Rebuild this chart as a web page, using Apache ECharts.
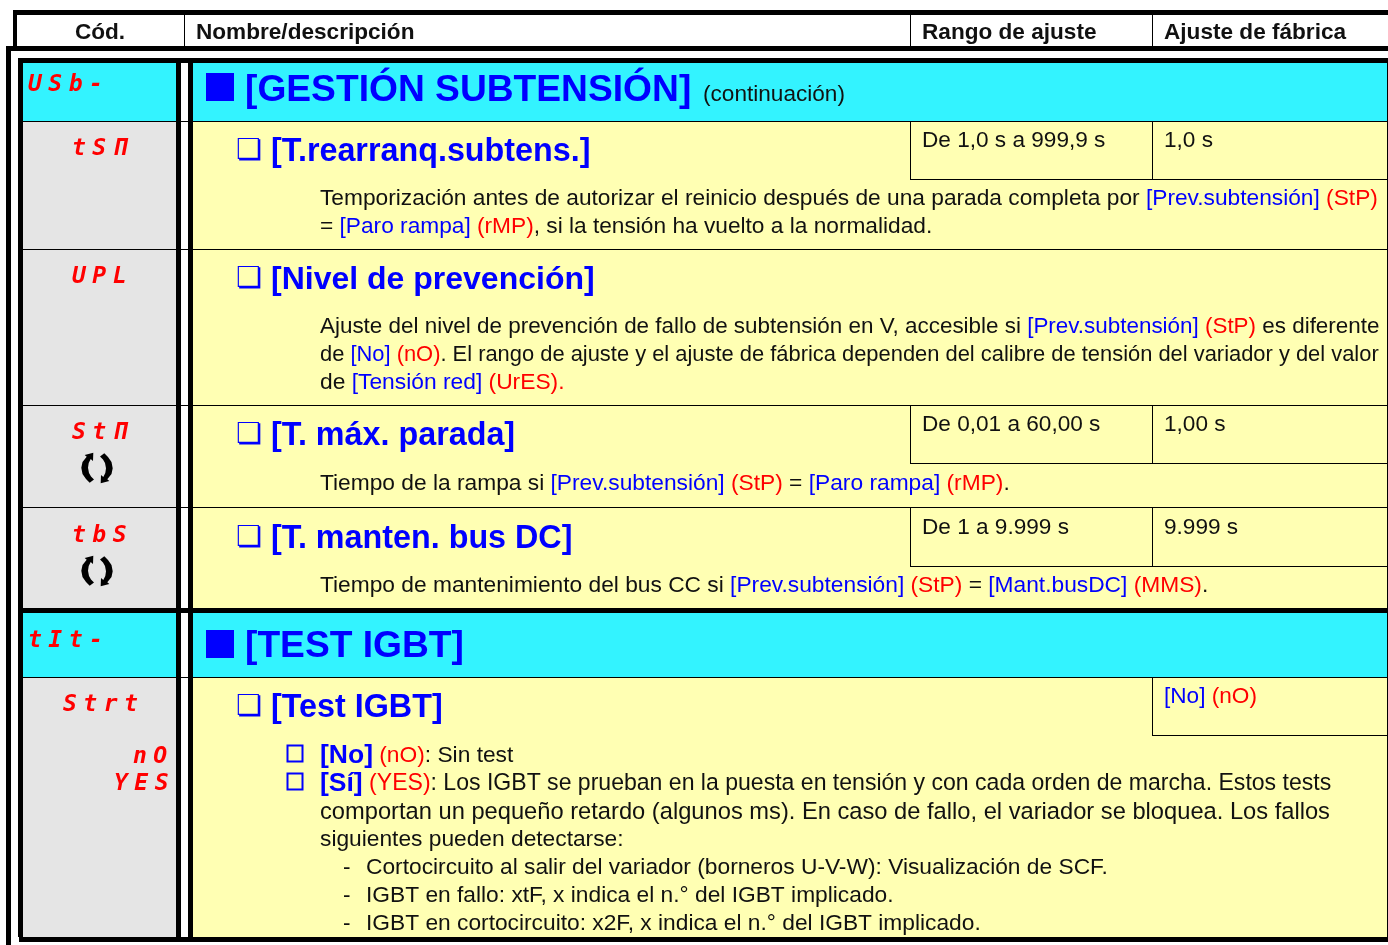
<!DOCTYPE html>
<html>
<head>
<meta charset="utf-8">
<title>Gestión subtensión</title>
<script src="https://cdn.jsdelivr.net/npm/echarts@6/dist/echarts.min.js"></script>
<style>
  html, body { margin: 0; padding: 0; background: #fff; }
  #main { width: 1388px; height: 945px; }
</style>
</head>
<body>
<div id="main"></div>
<script>
// table content
var headers = ['Cód.', 'Nombre/descripción', 'Rango de ajuste', 'Ajuste de fábrica'];
var codes = ['U S b -', 't S Π', 'U P L', 'S t Π', 't b S', 't I t -', 'S t r t', 'n O', 'Y E S'];
var sections = ['[GESTIÓN SUBTENSIÓN]', '[TEST IGBT]'];
var sectionNote = '(continuación)';
var params = ['[T.rearranq.subtens.]', '[Nivel de prevención]', '[T. máx. parada]', '[T. manten. bus DC]', '[Test IGBT]'];
var ranges = ['De 1,0 s a 999,9 s', 'De 0,01 a 60,00 s', 'De 1 a 9.999 s'];
var defaults = ['1,0 s', '1,00 s', '9.999 s', '{b|[No]} {r|(nO)}'];
var bodyLines = [
  'Temporización antes de autorizar el reinicio después de una parada completa por {b|[Prev.subtensión]} {r|(StP)}',
  '= {b|[Paro rampa]} {r|(rMP)}, si la tensión ha vuelto a la normalidad.',
  'Ajuste del nivel de prevención de fallo de subtensión en V, accesible si {b|[Prev.subtensión]} {r|(StP)} es diferente',
  'de {b|[No]} {r|(nO)}. El rango de ajuste y el ajuste de fábrica dependen del calibre de tensión del variador y del valor',
  'de {b|[Tensión red]} {r|(UrES).}',
  'Tiempo de la rampa si {b|[Prev.subtensión]} {r|(StP)} = {b|[Paro rampa]} {r|(rMP)}.',
  'Tiempo de mantenimiento del bus CC si {b|[Prev.subtensión]} {r|(StP)} = {b|[Mant.busDC]} {r|(MMS)}.'
];
var optionLines = [
  '{bb|[No]} {r|(nO)}: Sin test',
  '{bb|[Sí]} {r|(YES)}: Los IGBT se prueban en la puesta en tensión y con cada orden de marcha. Estos tests',
  'comportan un pequeño retardo (algunos ms). En caso de fallo, el variador se bloquea. Los fallos',
  'siguientes pueden detectarse:'
];
var dashLines = [
  'Cortocircuito al salir del variador (borneros U-V-W): Visualización de SCF.',
  'IGBT en fallo: xtF, x indica el n.° del IGBT implicado.',
  'IGBT en cortocircuito: x2F, x indica el n.° del IGBT implicado.'
];

// layout
var codeX = [28, 72, 72, 72, 72, 28, 63, 133, 114];
var codeY = [85, 149, 277, 433, 536, 641, 705, 757, 784];
var paramY = [152, 280, 436, 539, 708];
var paramSizes = [32.3, 32, 32.3, 32.3, 32.3];
var rangeY = [141, 425, 528];
var defaultY = [141, 425, 528, 697];
var bodyY = [199, 227, 327, 355, 383, 484, 586];
var bodySizes = [22.73, 22.7, 22.43, 21.9, 22.8, 22.75, 22.75];
var optionY = [756, 784, 812, 840];
var optionSizes = [22.75, 23.05, 23.7, 22.75];
var dashY = [868, 896, 924];
var rowLines = [121, 249, 405, 507, 677];
var boxBottoms = [179, 463, 566];
var boxTops = [121, 405, 507];
var iconY = [468, 571];
var arrowPoints = [[3, -11.5], [7.3, -14.7], [11, -11], [14.5, -6], [15.7, 0.3], [14.5, 6], [10.3, 11.3], [12.3, 13],
  [3.7, 15.3], [4, 7], [6.3, 9], [8.3, 5], [9, 0.3], [8, -5], [6, -8.5]];

var CYAN = '#33f3ff', YELLOW = '#ffffb3', GRAY = '#e5e5e5', BLUE = '#0000ff', RED = '#ff0000', INK = '#111111';
var FONT = '"Liberation Sans", Arial, sans-serif';
var MONO = '"DejaVu Sans Mono", monospace';
var TEXT_SIZE = 22.6;

var els = [];

function box(x, y, w, h, fill) {
  els.push({ type: 'rect', shape: { x: x, y: y, width: w, height: h }, style: { fill: fill }, silent: true });
}

function richStyles(size) {
  return {
    b: { fill: BLUE, fontSize: size, fontFamily: FONT },
    bb: { fill: BLUE, fontSize: 26.5, fontWeight: 'bold', fontFamily: FONT },
    r: { fill: RED, fontSize: size, fontFamily: FONT },
    c: { fill: RED, fontSize: 23, fontFamily: MONO, fontStyle: 'italic', fontWeight: 'bold' },
    s: { fontSize: 10.8, fontFamily: MONO }
  };
}

function label(str, x, y, size, opts) {
  opts = opts || {};
  els.push({
    type: 'text', x: x, y: y, silent: true,
    style: {
      text: str, fill: opts.fill || INK, fontSize: size, fontFamily: opts.family || FONT,
      fontWeight: opts.weight || 'normal',
      align: opts.align || 'left', verticalAlign: 'middle', rich: richStyles(size)
    }
  });
}

// cell fills
box(23, 63, 153, 58, CYAN);
box(193, 63, 1194, 58, CYAN);
box(23, 121, 153, 487, GRAY);
box(193, 121, 1194, 487, YELLOW);
box(23, 613, 153, 64, CYAN);
box(193, 613, 1194, 64, CYAN);
box(23, 677, 153, 260, GRAY);
box(193, 677, 1194, 260, YELLOW);

// heavy rules
box(13, 10, 1375, 5, '#000');
box(13, 10, 4, 36, '#000');
box(6, 46, 1382, 5, '#000');
box(6, 46, 5, 899, '#000');
box(18, 58, 1370, 5, '#000');
box(18, 58, 5, 879, '#000');
box(176, 58, 5, 884, '#000');
box(188, 58, 5, 884, '#000');
box(18, 608, 1370, 5, '#000');
box(19, 937, 1369, 5, '#000');
box(1387, 63, 1, 874, '#000');

// thin rules
[184, 910, 1152].forEach(function (x) { box(x, 15, 1, 31, '#000'); });
rowLines.forEach(function (y) {
  box(23, y, 153, 1, '#000');
  box(181, y, 7, 1, '#000');
  box(193, y, 1194, 1, '#000');
});
boxTops.forEach(function (top, i) {
  box(910, top, 1, boxBottoms[i] - top, '#000');
  box(1152, top, 1, boxBottoms[i] - top, '#000');
  box(910, boxBottoms[i], 477, 1, '#000');
});
box(1152, 677, 1, 58, '#000');
box(1152, 735, 235, 1, '#000');

// header row
label(headers[0], 100, 33, TEXT_SIZE, { weight: 'bold', align: 'center' });
label(headers[1], 196, 33, TEXT_SIZE, { weight: 'bold' });
label(headers[2], 922, 33, TEXT_SIZE, { weight: 'bold' });
label(headers[3], 1164, 33, TEXT_SIZE, { weight: 'bold' });

// display codes, monospaced with a fixed pitch like the drive's display
codes.forEach(function (c, i) {
  var str = c.split(' ').map(function (ch) { return '{c|' + ch + '}'; }).join('{s| }');
  label(str, codeX[i], codeY[i], 23, { fill: RED });
});

// section titles
box(206, 73, 28, 28, BLUE);
box(206, 630, 28, 28, BLUE);
label(sections[0], 245, 91, 37.2, { fill: BLUE, weight: 'bold' });
label(sections[1], 245, 647, 37.2, { fill: BLUE, weight: 'bold' });
label(sectionNote, 703, 95, TEXT_SIZE);

// parameter names
params.forEach(function (p, i) {
  label('❏', 236, paramY[i] - 1, 29, { fill: BLUE, family: '"DejaVu Sans"' });
  label(p, 271, paramY[i], paramSizes[i], { fill: BLUE, weight: 'bold' });
});

// ranges and factory values
ranges.forEach(function (r, i) { label(r, 922, rangeY[i], TEXT_SIZE); });
defaults.forEach(function (d, i) { label(d, 1164, defaultY[i], TEXT_SIZE); });

// body text
bodyLines.forEach(function (t, i) { label(t, 320, bodyY[i], bodySizes[i]); });
optionLines.forEach(function (t, i) { label(t, 320, optionY[i], optionSizes[i]); });
dashLines.forEach(function (t, i) {
  label('-', 343, dashY[i], TEXT_SIZE);
  label(t, 366, dashY[i], 22.75);
});

// option bullets
[745, 773].forEach(function (y) {
  els.push({
    type: 'rect', silent: true, shape: { x: 287.5, y: y + 0.5, width: 15, height: 16 },
    style: { fill: 'none', stroke: BLUE, lineWidth: 2 }
  });
});

// rotating arrows icon
iconY.forEach(function (y) {
  [0, Math.PI].forEach(function (rot) {
    els.push({
      type: 'polygon', x: 97, y: y, rotation: rot, silent: true,
      shape: { points: arrowPoints },
      style: { fill: '#000' }
    });
  });
});

var chart = echarts.init(document.getElementById('main'), null, { renderer: 'canvas' });
var option = {
  animation: false,
  backgroundColor: '#ffffff',
  graphic: { elements: els }
};
chart.setOption(option);
</script>
</body>
</html>
